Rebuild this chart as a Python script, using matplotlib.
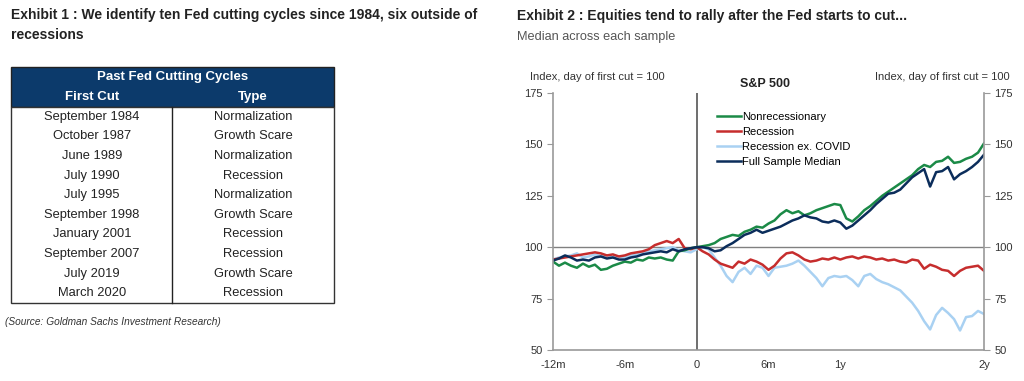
#Fed cutting cycles table + S&P 500 path around first cut
import matplotlib
matplotlib.use('Agg')
import matplotlib.pyplot as plt
from matplotlib.patches import Rectangle
import numpy as np

# table data
first_cut = ['September 1984', 'October 1987', 'June 1989', 'July 1990', 'July 1995',
             'September 1998', 'January 2001', 'September 2007', 'July 2019', 'March 2020']
cut_type = ['Normalization', 'Growth Scare', 'Normalization', 'Recession', 'Normalization',
            'Growth Scare', 'Recession', 'Recession', 'Growth Scare', 'Recession']

# months relative to first cut, half month steps
months = np.arange(-12, 24.5, 0.5)

nonrec = [93, 91, 92.5, 91, 90, 92, 90.5, 91.5, 89, 89.5,
          91, 92, 93, 92.5, 94, 93.5, 95, 94.5, 95, 94,
          93.5, 98, 98.5, 99.5, 100,
          100.5, 101, 102, 104, 105, 106, 105.5, 107.5, 108.5, 110,
          109.5, 111.5, 113, 116, 118, 116.5, 117.5, 115.5, 116.5, 118,
          119, 120, 121, 120.5, 114, 112.5, 115, 118, 120, 122.5,
          125, 127, 129, 131, 133, 135, 138, 140, 139, 141.5,
          142, 144, 141, 141.5, 143, 144, 146, 150.5]
full_med = [93.5, 94.5, 96, 95, 93.5, 94, 93.5, 95, 95.5, 94.5,
            95, 94, 94, 95, 95.5, 96.5, 97, 97.5, 98, 97.5,
            99, 98, 99, 99.5, 100,
            100, 99.5, 98, 98.5, 100.5, 102, 104, 106, 107, 108.5,
            107, 108, 109, 110, 111.5, 113, 114, 115.5, 114.5, 114,
            112.5, 112, 113, 112, 109, 110.5, 113, 115.5, 118, 121,
            123.5, 126, 126.5, 128, 131, 134, 136, 138, 129.5, 136.5,
            137, 139, 133, 135.5, 137, 139, 141.5, 145]
recession = [94, 94.5, 95, 95.5, 96, 96.5, 97, 97.5, 97, 96,
             96.5, 95.5, 96, 97, 97.5, 98, 99, 101, 102, 103,
             102, 104, 99.5, 99, 100,
             98, 96.5, 94, 92, 91, 90, 93, 92, 94, 93,
             91.5, 89, 91, 94.5, 97, 97.5, 96, 94, 93, 93.5,
             94.5, 94, 95, 94, 95, 95.5, 94.5, 95.5, 95, 94,
             94.5, 93.5, 94, 93, 92.5, 94, 93.5, 89.5, 91.5, 90.5,
             89, 88.5, 86, 88.5, 90, 90.5, 91, 88.5]
rec_ex_covid = [94, 95, 95.5, 96, 97, 95, 95.5, 96.5, 95.5, 96,
                95, 95.5, 95, 96, 96.5, 97, 98, 98.5, 99, 99.5,
                100, 98.5, 98, 97.5, 99,
                100, 99, 95, 91, 86, 83, 88, 90, 87, 91,
                90, 86, 90, 90.5, 91, 92, 93.5, 91, 88, 85,
                81, 85, 86, 85.5, 86, 84, 81, 86, 87, 84.5,
                83, 82, 80.5, 79, 76, 73, 69, 64, 60, 67,
                70.5, 68, 65, 59.5, 66, 66.5, 69, 67.5]

xtick_pos = [-12, -6, 0, 6, 12, 24]
xtick_lab = ['-12m', '-6m', '0', '6m', '1y', '2y']
yticks = [50, 75, 100, 125, 150, 175]

plt.rcParams['font.family'] = ['Liberation Sans', 'DejaVu Sans']

navy = '#0c3a6b'
fig = plt.figure(figsize=(10.24, 3.81), dpi=100)

# background axes in pixel coords for titles and table
bg = fig.add_axes([0, 0, 1, 1])
bg.set_xlim(0, 1024)
bg.set_ylim(381, 0)
bg.axis('off')

bg.text(11, 8, 'Exhibit 1 : We identify ten Fed cutting cycles since 1984, six outside of\nrecessions',
        fontsize=10, fontweight='bold', color='#222222',
        va='top', ha='left', linespacing=1.55)
bg.text(517, 9, 'Exhibit 2 : Equities tend to rally after the Fed starts to cut...',
        fontsize=10, fontweight='bold', color='#222222', va='top')
bg.text(517, 37, 'Median across each sample', fontsize=9.2,
        color='#555555', va='center')

# table
tl, tr, tmid = 11, 334, 172
htop, hbot, rbot = 67, 107, 303
rowh = (rbot - hbot) / len(first_cut)
bg.add_patch(Rectangle((tl, htop), tr - tl, hbot - htop, facecolor=navy, edgecolor='#222222', lw=1))
bg.add_patch(Rectangle((tl, hbot), tr - tl, rbot - hbot, facecolor='white', edgecolor='#333333', lw=1))
bg.plot([tmid, tmid], [hbot, rbot], color='#222222', lw=1)
bg.text((tl + tr) / 2, 77, 'Past Fed Cutting Cycles', color='white', fontsize=9.5,
        fontweight='bold', ha='center', va='center')
bg.text(92, 97, 'First Cut', color='white', fontsize=9.5, fontweight='bold', ha='center', va='center')
bg.text(253, 97, 'Type', color='white', fontsize=9.5, fontweight='bold', ha='center', va='center')
for i, (d, t) in enumerate(zip(first_cut, cut_type)):
    yc = hbot + rowh * (i + 0.5)
    bg.text(92, yc, d, fontsize=9.3, ha='center', va='center', color='#222222')
    bg.text(253, yc, t, fontsize=9.3, ha='center', va='center', color='#222222')
bg.text(5, 322, '(Source: Goldman Sachs Investment Research)', fontsize=7.3,
        style='italic', color='#333333', va='center')

# chart
ax = fig.add_axes([553 / 1024, 1 - 350 / 381, (984 - 553) / 1024, (350 - 93) / 381])
ax.axhline(100, color='#808080', lw=1, zorder=1)
ax.axvline(0, color='#555555', lw=1.2, zorder=1)
l_lb, = ax.plot(months, rec_ex_covid, color='#a9d1f2', lw=1.8, label='Recession ex. COVID')
l_rd, = ax.plot(months, recession, color='#c62d2d', lw=1.8, label='Recession')
l_gr, = ax.plot(months, nonrec, color='#1b8a47', lw=1.8, label='Nonrecessionary')
l_nv, = ax.plot(months, full_med, color='#0b2d5b', lw=1.8, label='Full Sample Median')

ax.set_xlim(-12, 24)
ax.set_ylim(50, 175)
ax.set_xticks(xtick_pos)
ax.set_xticklabels(xtick_lab)
ax.set_yticks(yticks)
ax.tick_params(axis='x', length=0, labelsize=8, pad=7, colors='#333333')
ax.tick_params(axis='y', direction='out', length=4, labelsize=8, colors='#333333',
               left=True, right=True, labelleft=True, labelright=True)
ax.tick_params(axis='y', color='#999999')
for s in ['left', 'right', 'bottom']:
    ax.spines[s].set_color('#999999')
    ax.spines[s].set_linewidth(1.2)
ax.spines['top'].set_visible(False)

ax.legend(handles=[l_gr, l_rd, l_lb, l_nv], loc='upper left', bbox_to_anchor=(0.37, 0.945),
          frameon=False, fontsize=8, handlelength=2.2, handletextpad=0.1,
          labelspacing=0.45, borderaxespad=0)

bg.text(530, 77, 'Index, day of first cut = 100', fontsize=8, color='#333333', va='center')
bg.text(1010, 77, 'Index, day of first cut = 100', fontsize=8, color='#333333',
        va='center', ha='right')
bg.text(765, 84, 'S&P 500', fontsize=9, fontweight='bold', color='#222222',
        ha='center', va='center')

plt.savefig('out.png', dpi=100)
